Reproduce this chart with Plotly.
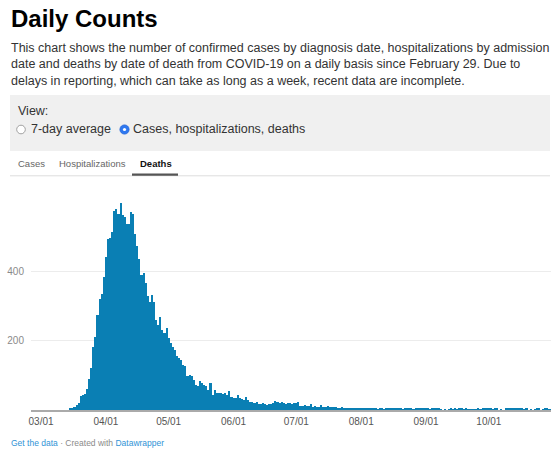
import pandas as pd
import plotly.graph_objects as go

# daily deaths by date of death (starts 02/26)
deaths_feb = [0, 0, 0, 0]
deaths_mar = [0, 0, 0, 0, 0, 0, 0, 0, 0, 0, 0, 0, 0, 0,
              4, 6, 10, 14, 20, 40, 44, 46, 62, 91, 120, 182, 211, 274, 322, 336, 384]
deaths_apr = [442, 495, 497, 514, 576, 581, 567, 598, 562, 557,
              538, 538, 572, 567, 509, 475, 437, 390, 397, 366,
              328, 313, 332, 313, 260, 246, 270, 231, 222, 236]
deaths_may = [207, 193, 183, 174, 155, 150, 145, 131, 126, 97,
              102, 99, 87, 73, 68, 83, 78, 73, 68, 59,
              78, 44, 59, 49, 49, 50, 47, 48, 44, 55, 39]
deaths_jun = [36, 35, 42, 34, 32, 29, 39, 29, 24, 22,
              20, 22, 18, 16, 19, 17, 15, 18, 16, 19,
              26, 22, 21, 23, 20, 18, 21, 19, 17, 20]
deaths_jul = [19, 22, 13, 12, 14, 11, 13, 17, 10, 11,
              9, 10, 15, 10, 9, 11, 8, 10, 9, 8,
              7, 6, 8, 7, 6, 7, 5, 7, 5, 4, 6]
deaths_aug = [3, 4, 3, 5, 4, 6, 5, 3, 2, 4,
              3, 2, 3, 4, 5, 3, 4, 3, 5, 4,
              2, 3, 5, 4, 3, 2, 4, 3, 5, 4, 3]
deaths_sep = [4, 3, 2, 4, 3, 5, 3, 2, 0, 1,
              0, 2, 3, 2, 3, 2, 3, 4, 2, 3,
              2, 1, 2, 1, 2, 3, 2, 4, 3, 3]
deaths_oct = [3, 4, 2, 3, 4, 0, 1, 0, 4, 6,
              7, 6, 5, 4, 5, 3, 3, 2, 3, 0,
              1, 0, 1, 4, 4, 0, 1, 3, 3, 1]

deaths = (deaths_feb + deaths_mar + deaths_apr + deaths_may + deaths_jun
          + deaths_jul + deaths_aug + deaths_sep + deaths_oct)
dates = pd.date_range("2020-02-26", periods=len(deaths), freq="D")

tick_vals = ["2020-03-01", "2020-04-01", "2020-05-01", "2020-06-01",
             "2020-07-01", "2020-08-01", "2020-09-01", "2020-10-01"]
tick_text = ["03/01", "04/01", "05/01", "06/01", "07/01", "08/01", "09/01", "10/01"]
y_ticks = [200, 400]

title = "Daily Counts"
intro = ["This chart shows the number of confirmed cases by diagnosis date, hospitalizations by admission",
         "date and deaths by date of death from COVID-19 on a daily basis since February 29. Due to",
         "delays in reporting, which can take as long as a week, recent data are incomplete."]
tabs = ["Cases", "Hospitalizations", "Deaths"]

FONT = "Liberation Sans, Arial, Helvetica, sans-serif"
BAR = "#0a7fb4"

# plot area in page pixels, used to place the header pieces
L, R, T, B = 31, 551, 185, 410
W, H = 558, 457


def px(x):
    return (x - L) / (R - L)


def py(y):
    return (B - y) / (B - T)


fig = go.Figure()
fig.add_trace(go.Bar(x=dates, y=deaths, marker=dict(color=BAR, line=dict(width=0)),
                     hoverinfo="x+y"))

ann = []


def text(x, y, s, size, color, anchor="left"):
    ann.append(dict(x=px(x), y=py(y), xref="paper", yref="paper", text=s, showarrow=False,
                    xanchor=anchor, yanchor="middle", align="left",
                    font=dict(family=FONT, size=size, color=color)))


text(9, 18, "<b>" + title + "</b>", 24, "#000000")
text(9, 64, "<br>".join(intro), 12.5, "#333333")
text(16, 111, "View:", 12.5, "#333333")
text(29, 129, "7-day average", 12.5, "#333333")
text(131, 129, "Cases, hospitalizations, deaths", 12.5, "#333333")
text(16, 163, tabs[0], 9.5, "#666666")
text(57, 163, tabs[1], 9.5, "#666666")
text(138, 163, "<b>" + tabs[2] + "</b>", 9.5, "#111111")
text(9, 443, "<span style='color:#2f93d6'>Get the data</span> · Created with "
     "<span style='color:#2f93d6'>Datawrapper</span>", 8.5, "#8a8a8a")


def circle(x, y, r, fill, line, lw):
    return dict(type="circle", xref="paper", yref="paper",
                x0=px(x - r), x1=px(x + r), y0=py(y + r), y1=py(y - r),
                fillcolor=fill, line=dict(color=line, width=lw), layer="above")


shapes = [
    # grey controls box
    dict(type="rect", xref="paper", yref="paper", x0=px(10), x1=px(550), y0=py(151), y1=py(95),
         fillcolor="#f0f0f0", line=dict(width=0), layer="below"),
    circle(21, 129.5, 4.3, "#ffffff", "#8c8c8c", 0.8),
    circle(124.5, 129.5, 4.6, "#2f78f0", "#2264d8", 0.8),
    circle(124.5, 129.5, 1.6, "#ffffff", "#ffffff", 0),
    # tab bar
    dict(type="line", xref="paper", yref="paper", x0=px(10), x1=px(550), y0=py(175.8), y1=py(175.8),
         line=dict(color="#dddddd", width=1)),
    dict(type="line", xref="paper", yref="paper", x0=px(132), x1=px(178), y0=py(174.6), y1=py(174.6),
         line=dict(color="#555555", width=2.4)),
]

fig.update_layout(
    width=W, height=H,
    margin=dict(l=L, r=W - R, t=T, b=H - B, pad=0),
    paper_bgcolor="white", plot_bgcolor="white",
    font=dict(family=FONT, size=10, color="#555555"),
    showlegend=False, bargap=0,
    annotations=ann, shapes=shapes,
)
fig.update_xaxes(type="date", range=["2020-02-25 05:00", "2020-10-30 17:00"],
                 tickvals=tick_vals, ticktext=tick_text, ticks="",
                 showgrid=False, zeroline=False, showline=True,
                 linecolor="#aaaaaa", linewidth=1.5,
                 tickfont=dict(size=10, color="#555555"), ticklabelstandoff=1)
fig.update_yaxes(range=[0, 650], tickvals=y_ticks, ticks="",
                 showgrid=True, gridcolor="#ececec", gridwidth=1,
                 zeroline=False, showline=False,
                 tickfont=dict(size=10, color="#8a8a8a"), ticklabelstandoff=6)

# page has an 8px body margin by default, drop it so the figure fills the window
fig.write_html("out.html", config={"displayModeBar": False},
               post_script="document.body.style.margin='0';")
